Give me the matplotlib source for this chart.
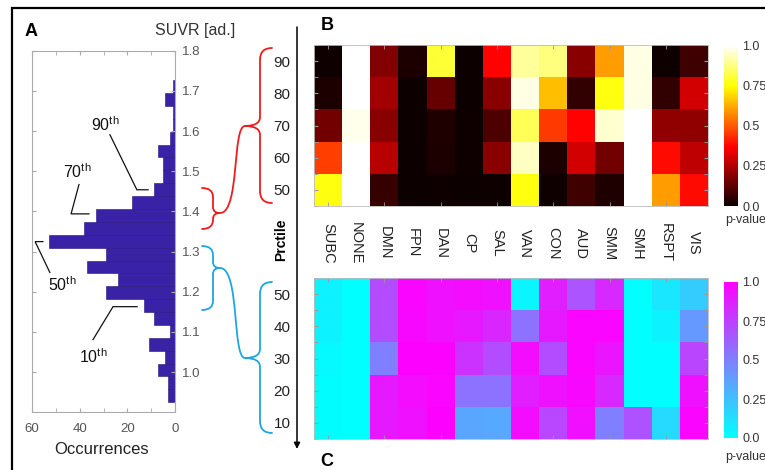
import numpy as np
import matplotlib
matplotlib.use('Agg')
import matplotlib.pyplot as plt
from matplotlib.path import Path
from matplotlib.patches import PathPatch, Rectangle
import matplotlib.transforms as mtransforms

plt.rcParams['font.family'] = ['Liberation Sans', 'DejaVu Sans']
plt.rcParams['mathtext.fontset'] = 'custom'
plt.rcParams['mathtext.rm'] = 'Liberation Sans'
plt.rcParams['mathtext.it'] = 'Liberation Sans:italic'
plt.rcParams['mathtext.bf'] = 'Liberation Sans:bold'

# ---------------- data ----------------
# histogram of SUVR (bins from low to high SUVR)
suvr_min, suvr_max = 0.925, 1.727
hist_counts = [3, 3, 7, 4, 11, 2, 9, 13, 29, 24, 37, 29, 53, 38, 33, 18,
               9, 5, 5, 7, 2, 1, 1, 4, 1]
pct_names = ['10', '50', '70', '90']
pct_values = [1.163, 1.325, 1.394, 1.454]

networks = ['SUBC', 'NONE', 'DMN', 'FPN', 'DAN', 'CP', 'SAL', 'VAN', 'CON',
            'AUD', 'SMM', 'SMH', 'RSPT', 'VIS']
rows_B = ['90', '80', '70', '60', '50']
rows_C = ['50', '40', '30', '20', '10']

pB = np.array([
    # SUBC NONE DMN  FPN   DAN   CP    SAL   VAN   CON   AUD   SMM   SMH   RSPT  VIS
    [0.01, 1.00, 0.18, 0.03, 0.80, 0.005, 0.37, 0.90, 0.87, 0.19, 0.60, 0.97, 0.01, 0.08],  # 90
    [0.03, 1.00, 0.23, 0.005, 0.14, 0.005, 0.19, 0.97, 0.65, 0.06, 0.76, 0.97, 0.06, 0.30],  # 80
    [0.16, 0.98, 0.19, 0.005, 0.035, 0.01, 0.10, 0.83, 0.45, 0.37, 0.95, 1.00, 0.20, 0.20],  # 70
    [0.46, 1.00, 0.26, 0.005, 0.03, 0.01, 0.19, 0.94, 0.03, 0.30, 0.16, 1.00, 0.38, 0.27],  # 60
    [0.76, 1.00, 0.07, 0.005, 0.01, 0.005, 0.01, 0.76, 0.01, 0.08, 0.035, 1.00, 0.60, 0.38],  # 50
])
pC = np.array([
    [0.05, 0.00, 0.70, 0.98, 0.93, 0.95, 0.93, 0.04, 0.88, 0.67, 0.84, 0.00, 0.10, 0.20],  # 50
    [0.05, 0.00, 0.70, 0.97, 0.93, 0.90, 0.85, 0.55, 0.90, 0.98, 0.98, 0.00, 0.05, 0.40],  # 40
    [0.02, 0.00, 0.50, 0.99, 0.99, 0.80, 0.70, 0.95, 0.70, 0.98, 0.92, 0.00, 0.00, 0.73],  # 30
    [0.01, 0.00, 0.90, 0.95, 0.98, 0.55, 0.55, 0.88, 0.93, 0.97, 0.84, 0.00, 0.00, 0.93],  # 20
    [0.01, 0.00, 0.90, 0.93, 0.99, 0.35, 0.34, 0.95, 0.72, 0.94, 0.50, 0.68, 0.15, 0.98],  # 10
])
cbar_ticks = [0.0, 0.25, 0.5, 0.75, 1.0]
cbar_ticklabels = ['0.0', '0.25', '0.5', '0.75', '1.0']

# ---------------- layout helpers ----------------
W, H = 765, 470
fig = plt.figure(figsize=(W / 100, H / 100), dpi=100)


def rect(l, t, r, b):
    return [l / W, 1 - b / H, (r - l) / W, (b - t) / H]


def fx(px):
    return px / W


def fy(py):
    return 1 - py / H


TICK_C = '#555555'
SPINE_C = '#aaaaaa'

# ---------------- Panel A: histogram ----------------
axA = fig.add_axes(rect(32, 50.8, 175, 412.3))
edges = np.linspace(suvr_min, suvr_max, len(hist_counts) + 1)
centers = 0.5 * (edges[:-1] + edges[1:])
axA.barh(centers, hist_counts, height=edges[1] - edges[0], color='#3a22a6',
         edgecolor='#24137a', linewidth=0.4)
axA.set_xlim(60, 0)
axA.set_ylim(0.9, 1.8)
axA.set_xticks([60, 40, 20, 0])
axA.set_xticks([50, 30, 10], minor=True)
axA.set_yticks(np.round(np.arange(1.0, 1.81, 0.1), 1))
axA.set_yticklabels(['%.1f' % v for v in np.arange(1.0, 1.81, 0.1)])
axA.tick_params(axis='both', which='both', direction='in', length=3,
                color=SPINE_C, labelcolor=TICK_C, labelsize=9.5,
                top=True, bottom=True, left=True, right=True,
                labelleft=False, labelright=True)
axA.tick_params(axis='x', pad=8)
axA.tick_params(axis='y', pad=5)
for s in axA.spines.values():
    s.set_color(SPINE_C)
    s.set_linewidth(0.8)

# percentile callouts (text offset relative to percentile level)
callouts = {
    # name: (text x, text y offset), (line start x, y offset), (elbow x), (end x)
    '90': ((29.4, 0.162), (27.3, 0.137), 16.0, 11.3),
    '70': ((41.1, 0.105), (40.3, 0.073), 43.6, 36.1),
    '50': ((47.4, -0.107), (52.5, -0.077), 58.7, 55.4),
    '10': ((34.4, -0.124), (34.4, -0.082), 26.0, 15.9),
}
for name, val in zip(pct_names, pct_values):
    (tx, tdy), (lx, ldy), ex, endx = callouts[name]
    axA.text(tx, val + tdy, name + r'$^{\mathrm{th}}$', ha='center', va='center',
             fontsize=11.5, color='#111111', clip_on=False)
    axA.plot([lx, ex, endx], [val + ldy, val, val], color='#111111', lw=0.9,
             clip_on=False, solid_joinstyle='miter')

fig.text(fx(195), fy(31), 'SUVR [ad.]', ha='center', va='center', fontsize=11.5,
         color='#333333')
fig.text(fx(102), fy(450), 'Occurrences', ha='center', va='center', fontsize=12,
         color='#222222')
fig.text(fx(31), fy(31), 'A', ha='center', va='center', fontsize=13,
         fontweight='bold')


# ---------------- Panels B and C: heatmaps ----------------
def heatmap(axrect, caxrect, data, cmap, rowlabels):
    ax = fig.add_axes(axrect)
    im = ax.imshow(data, cmap=cmap, vmin=0, vmax=1, aspect='auto',
                   interpolation='nearest')
    ax.set_yticks(range(len(rowlabels)))
    ax.set_yticklabels(rowlabels)
    ax.set_yticks(np.arange(-0.5, len(rowlabels), 1.0), minor=True)
    ax.yaxis.remove_overlapping_locs = False
    ax.set_xticks([])
    ax.set_xticks(range(0, len(networks), 2), minor=True)
    ax.tick_params(axis='y', which='both', direction='in', length=3,
                   color='#999999', left=True, right=True)
    ax.tick_params(axis='y', which='major', pad=17, labelsize=11,
                   labelcolor='#222222')
    ax.tick_params(axis='x', which='minor', direction='in', length=3,
                   color='#999999', top=True, bottom=True)
    for s in ax.spines.values():
        s.set_color('#bbbbbb')
        s.set_linewidth(0.6)
    cax = fig.add_axes(caxrect)
    cb = fig.colorbar(im, cax=cax, ticks=cbar_ticks)
    cb.set_ticklabels(cbar_ticklabels)
    cb.outline.set_visible(False)
    cax.tick_params(length=0, labelsize=9, labelcolor='#333333', pad=3)
    return ax, cax


axB, caxB = heatmap(rect(314, 45, 708, 206), rect(724, 45, 738, 206), pB, 'hot', rows_B)
axC, caxC = heatmap(rect(314, 278, 708, 439), rect(724, 282, 738, 438), pC, 'cool', rows_C)

trB = mtransforms.blended_transform_factory(axB.transData, axB.transAxes)
for i, name in enumerate(networks):
    axB.text(i, -(243 - 206) / 161, name, transform=trB, rotation=-90,
             ha='center', va='center', fontsize=10.5, color='#222222',
             clip_on=False)

fig.text(fx(725), fy(220), 'p-value', ha='left', va='center', fontsize=9,
         color='#333333')
fig.text(fx(725), fy(457), 'p-value', ha='left', va='center', fontsize=9,
         color='#333333')
fig.text(fx(327), fy(26), 'B', ha='center', va='center', fontsize=13,
         fontweight='bold')
fig.text(fx(327), fy(461), 'C', ha='center', va='center', fontsize=13,
         fontweight='bold')
fig.text(fx(281), fy(240), 'Prctile', ha='center', va='center', rotation=90,
         fontsize=10, fontweight='bold')

# ---------------- overlay: braces, arrow, frame ----------------
ov = fig.add_axes([0, 0, 1, 1])
ov.set_xlim(0, W)
ov.set_ylim(H, 0)
ov.axis('off')
ov.patch.set_alpha(0)


def brace(x_end, x_body, x_cusp, y_top, y_cusp, y_bot, r_end, r_cusp, color):
    verts = [(x_end, y_top),
             (x_body, y_top), (x_body, y_top + r_end),
             (x_body, y_cusp - r_cusp),
             (x_body, y_cusp), (x_cusp, y_cusp),
             (x_body, y_cusp), (x_body, y_cusp + r_cusp),
             (x_body, y_bot - r_end),
             (x_body, y_bot), (x_end, y_bot)]
    codes = [Path.MOVETO, Path.CURVE3, Path.CURVE3, Path.LINETO,
             Path.CURVE3, Path.CURVE3, Path.CURVE3, Path.CURVE3,
             Path.LINETO, Path.CURVE3, Path.CURVE3]
    ov.add_patch(PathPatch(Path(verts, codes), fill=False, edgecolor=color,
                           lw=1.3, capstyle='round'))


def connector(p0, p3, color):
    verts = [p0, (p0[0] + 20, p0[1]), (p3[0] - 13, p3[1]), p3]
    codes = [Path.MOVETO, Path.CURVE4, Path.CURVE4, Path.CURVE4]
    ov.add_patch(PathPatch(Path(verts, codes), fill=False, edgecolor=color,
                           lw=1.3))


RED = '#ee1d1d'
BLUE = '#1ea6e0'
# red group
brace(272, 260, 245, 48, 126, 203, 12, 9, RED)
brace(202, 213, 220, 188, 213, 229, 9, 6, RED)
connector((220, 213), (245, 126), RED)
# blue group
brace(272, 260, 245, 282, 358, 433, 12, 9, BLUE)
brace(202, 213, 220, 246, 268, 310, 9, 6, BLUE)
connector((220, 268), (245, 358), BLUE)

ov.annotate('', xy=(297, 449), xytext=(297, 27),
            arrowprops=dict(arrowstyle='-|>', color='black', lw=1.1,
                            mutation_scale=9, shrinkA=0, shrinkB=0))

fig.patches.append(Rectangle((fx(12), -0.1), 1.2, fy(8) + 0.1,
                             transform=fig.transFigure, fill=False,
                             edgecolor='black', lw=1.6))

fig.savefig('out.png', dpi=100)
